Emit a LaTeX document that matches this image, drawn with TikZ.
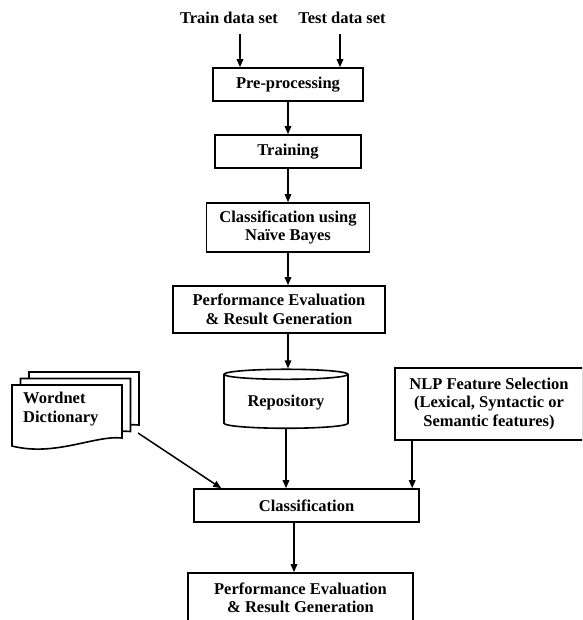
\documentclass[tikz,border=0pt]{standalone}
\usepackage{fontspec}
\setmainfont{Liberation Serif}
\usetikzlibrary{arrows.meta, positioning, shapes.geometric}

\begin{document}
\begin{tikzpicture}[x=1pt, y=-1pt, >={Triangle[length=8pt,width=6.5pt]},
      box/.style={draw, rectangle, line width=1.6pt, align=center,
                  font=\bfseries\fontsize{16.5}{18.5}\selectfont, inner sep=2pt},
      lbl/.style={font=\bfseries\fontsize{16.5}{18.5}\selectfont, inner sep=0pt, align=center},
      db/.style={draw, cylinder, shape border rotate=90, aspect=0.12, line width=1.6pt,
                 font=\bfseries\fontsize{16.5}{18.5}\selectfont},
      doc/.style={draw, fill=white, line width=1.6pt},
      flow/.style={->, line width=1.5pt}]

    \clip (0,0) rectangle (582,620);

    % Inputs and the upper chain
    \node[lbl] (train) at (229,18) {Train data set};
    \node[lbl] (test)  at (342,18) {Test data set};
    \node[box, minimum width=150pt, minimum height=33pt] (pre)    at (288,84.5)  {Pre-processing};
    \node[box, minimum width=146pt, minimum height=33pt] (train2) at (288,151.5) {Training};
    \node[box, minimum width=163pt, minimum height=49pt] (nb)     at (288,227.5) {Classification using\\Naïve Bayes};
    \node[box, minimum width=212pt, minimum height=47pt] (eval1)  at (279,309.5) {Performance Evaluation\\\& Result Generation};
    \node[db, minimum width=124pt, minimum height=59pt] (repo) at (286,402.5) {Repository};

    % Side inputs
    \foreach \dx/\dy in {17/-13, 8.5/-6.5, 0/0}
        \draw[doc, shift={(\dx,\dy)}] (12,385) -- (122,385) -- (122,438)
            .. controls (95,435) and (55,457) .. (12,446) -- cycle;
    \node[lbl, anchor=west, align=left] (wordnet) at (23,409) {Wordnet\\Dictionary};
    \coordinate (wnout) at (138,433);
    \node[box, minimum width=188pt, minimum height=72pt] (nlp) at (489,404)
        {NLP Feature Selection\\(Lexical, Syntactic or\\Semantic features)};

    % Lower chain
    \node[box, minimum width=225pt, minimum height=33pt] (cls)   at (306.5,505.5) {Classification};
    \node[box, minimum width=225pt, minimum height=50pt] (eval2) at (300.5,598)   {Performance Evaluation\\\& Result Generation};

    % Connectors
    \draw[flow] ([xshift=11pt,yshift=-10pt]train.south) -- ([xshift=11pt]train.south |- pre.north);
    \draw[flow] ([xshift=-2pt,yshift=-10pt]test.south) -- ([xshift=-2pt]test.south |- pre.north);
    \draw[flow] (pre) -- (train2);
    \draw[flow] (train2) -- (nb);
    \draw[flow] (nb.south) -- (nb.south |- eval1.north);
    \draw[flow] (nb.south |- eval1.south) -- (nb.south |- repo.north);
    \draw[flow] (repo.south) -- (repo.south |- cls.north);
    \draw[flow] (wnout) -- ([xshift=28pt]cls.north west);
    \draw[flow] ([xshift=18pt]nlp.south west) -- ([xshift=18pt]nlp.south west |- cls.north);
    \draw[flow] ([xshift=-12.5pt]cls.south) -- ([xshift=-12.5pt]cls.south |- eval2.north);

\end{tikzpicture}
\end{document}
